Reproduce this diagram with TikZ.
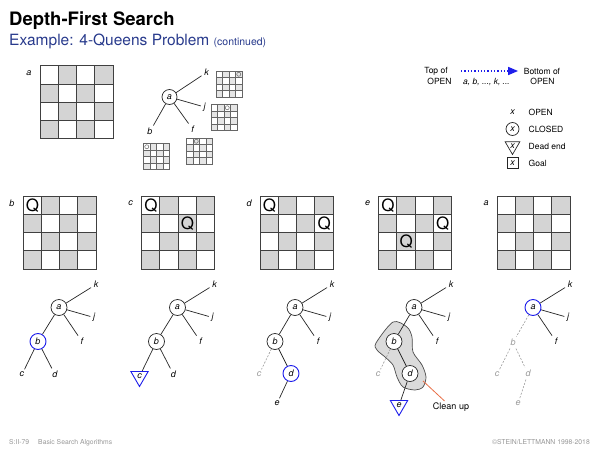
\documentclass[tikz,border=0pt]{standalone}
\usepackage{fontspec}
\setmainfont{TeX Gyre Heros}
\usepackage{tikz}
\usetikzlibrary{arrows}
\usetikzlibrary{positioning}
\usetikzlibrary{shapes.geometric}
\definecolor{cellgray}{RGB}{212,212,212}
\definecolor{subblue}{RGB}{40,58,140}
\definecolor{markblue}{RGB}{30,30,235}
\definecolor{cleanorange}{RGB}{232,110,70}
\definecolor{footgray}{RGB}{150,150,150}

\begin{document}
\begin{tikzpicture}[x=1pt,y=-1pt,>=triangle 45,on grid]
		\tikzstyle{treeedge}=[draw=black!85,line width=0.7pt];
		\tikzstyle{oldedge}=[draw=black!40,line width=0.6pt,dash pattern=on 2pt off 1.5pt];
		\tikzstyle{lbl}=[inner sep=2.5pt,font=\fontsize{9}{9}\selectfont\itshape];
		\tikzstyle{oldlbl}=[lbl,text=black!40];
		\tikzstyle{closednode}=[circle,draw=black!85,fill=white,line width=0.7pt,
			minimum size=16pt,inner sep=0pt,font=\fontsize{9}{9}\selectfont\itshape];
		\tikzstyle{curnode}=[closednode,draw=markblue,line width=0.9pt];
		\tikzstyle{deadnode}=[regular polygon,regular polygon sides=3,shape border rotate=180,
			draw=markblue,fill=white,line width=0.9pt,minimum size=20pt,inner sep=0pt,
			font=\fontsize{9}{9}\selectfont\itshape];
		\tikzstyle{queen}=[inner sep=0pt,font=\fontsize{17}{17}\selectfont];
		\tikzstyle{boardline}=[draw=black!75,line width=0.8pt];
		\tikzstyle{smallline}=[draw=black!60,line width=0.5pt];
		\tikzstyle{legend}=[inner sep=1pt,font=\fontsize{8.5}{9.5}\selectfont];
		\tikzstyle{foot}=[inner sep=0pt,text=footgray,font=\fontsize{6.8}{7.5}\selectfont];
		\useasboundingbox (0,0) rectangle (600,450);

		% title
		\node[anchor=base west,inner sep=0pt,font=\fontsize{18.5}{20}\selectfont\bfseries](title)
			at (9,25){Depth-First Search};
		\node[anchor=base west,inner sep=0pt,text=subblue,font=\fontsize{15.5}{17}\selectfont](subtitle)
			at (9,45){Example: 4-Queens Problem \fontsize{10.5}{12}\selectfont(continued)};

		% boards
		\foreach \bx/\by/\bn/\bl in {40/65.7/a0/a,23/196/b/b,141.5/196/c/c,260/196/d/d,378.5/196/e/e,497/196/a/a}{
			\node[lbl](tag\bn) at (\bx-11,\by+7){\bl};
			\begin{scope}[shift={(\bx,\by)}]
				\foreach \c/\r in {1/0,3/0,0/1,2/1,1/2,3/2,0/3,2/3}
					\fill[cellgray] (\c*18.25,\r*18.25) rectangle ++(18.25,18.25);
				\foreach \i in {1,2,3}
					\draw[boardline] (\i*18.25,0) -- (\i*18.25,73) (0,\i*18.25) -- (73,\i*18.25);
				\draw[boardline] (0,0) rectangle (73,73);
			\end{scope}
		}
		\foreach \bx/\c/\r/\qn in {23/0/0/b1,141.5/0/0/c1,141.5/2/1/c2,260/0/0/d1,260/3/1/d2,
				378.5/0/0/e1,378.5/3/1/e2,378.5/1/2/e3}
			\node[queen](q\qn) at (\bx+\c*18.25+9.4,196+\r*18.25+9.6){Q};

		% small boards
		\foreach \sx/\sy/\qc in {216/71/3,211/104.5/2,143.5/143.5/0,186.5/138/1}{
			\begin{scope}[shift={(\sx,\sy)}]
				\foreach \c/\r in {1/0,3/0,0/1,2/1,1/2,3/2,0/3,2/3}
					\fill[black!10] (\c*6.5,\r*6.5) rectangle ++(6.5,6.5);
				\foreach \i in {1,2,3}
					\draw[smallline] (\i*6.5,0) -- (\i*6.5,26) (0,\i*6.5) -- (26,\i*6.5);
				\draw[smallline] (0,0) rectangle (26,26);
				\draw[smallline] (\qc*6.5+3.25,3.25) circle[radius=2pt];
			\end{scope}
		}

		% small tree
		\node[closednode,minimum size=15pt](a0) at (169.5,97){a};
		\node[lbl,above right=24.5pt and 37pt of a0](k0){k};
		\node[lbl,below right=10pt and 35pt of a0](j0){j};
		\node[lbl,below right=32pt and 23pt of a0](f0){f};
		\node[lbl,below left=34.5pt and 19.5pt of a0](b0){b};
		\draw[treeedge](a0)--(k0)(a0)--(j0)(a0)--(f0)(a0)--(b0);

		% legend
		\node[legend](topof) at (436,71){Top of};
		\node[legend](topopen) at (439.5,81.7){OPEN};
		\node[legend](botof) at (542,71){Bottom of};
		\node[legend](botopen) at (542.5,81.7){OPEN};
		\node[legend,font=\fontsize{8.5}{9.5}\selectfont\itshape](order) at (486.5,81.7){a, b, ..., k, ...};
		\coordinate(qstart) at (461,71);
		\coordinate(qend) at (518,71);
		\draw[->,markblue,line width=1.3pt,dotted](qstart)--(qend);
		\node[lbl,inner sep=1pt](lopen) at (512.5,112.3){x};
		\node[closednode,minimum size=13pt](lclosed) at (512.5,129){x};
		\node[deadnode,draw=black!85,line width=0.7pt,minimum size=17pt](ldead) at (512.5,146){x};
		\node[rectangle,draw=black!85,line width=0.7pt,minimum size=11pt,inner sep=0pt,
			font=\fontsize{9}{9}\selectfont\itshape](lgoal) at (512.5,163.3){x};
		\node[legend,anchor=west](topen) at (527.5,112.3){OPEN};
		\node[legend,anchor=west](tclosed) at (527.5,129){CLOSED};
		\node[legend,anchor=west](tdead) at (527.5,146){Dead end};
		\node[legend,anchor=west](tgoal) at (527.5,163.3){Goal};

		% tree b
		\node[closednode](a1) at (59,307.5){a};
		\node[lbl,above right=23pt and 37pt of a1](k1){k};
		\node[lbl,below right=10pt and 35pt of a1](j1){j};
		\node[lbl,below right=34pt and 23pt of a1](f1){f};
		\node[curnode,below left=34pt and 21pt of a1](b1){b};
		\node[lbl,below left=33pt and 16pt of b1](c1){c};
		\node[lbl,below right=33pt and 17pt of b1](d1){d};
		\draw[treeedge](a1)--(k1)(a1)--(j1)(a1)--(f1)(a1)--(b1)(b1)--(c1)(b1)--(d1);

		% tree c
		\node[closednode](a2) at (177.5,307.5){a};
		\node[lbl,above right=23pt and 37pt of a2](k2){k};
		\node[lbl,below right=10pt and 35pt of a2](j2){j};
		\node[lbl,below right=34pt and 23pt of a2](f2){f};
		\node[closednode,below left=34pt and 21pt of a2](b2){b};
		\node[deadnode,below left=35pt and 17pt of b2](c2){c};
		\node[lbl,below right=33pt and 17pt of b2](d2){d};
		\draw[treeedge](a2)--(k2)(a2)--(j2)(a2)--(f2)(a2)--(b2)(b2)--(c2)(b2)--(d2);

		% tree d
		\node[closednode](a3) at (295,307.5){a};
		\node[lbl,above right=23pt and 37pt of a3](k3){k};
		\node[lbl,below right=10pt and 35pt of a3](j3){j};
		\node[lbl,below right=34pt and 23pt of a3](f3){f};
		\node[closednode,below left=34pt and 20pt of a3](b3){b};
		\node[oldlbl,below left=33pt and 16pt of b3](c3){c};
		\node[curnode,below right=32pt and 16pt of b3](d3){d};
		\node[lbl,below left=30pt and 14pt of d3](e3){e};
		\draw[treeedge](a3)--(k3)(a3)--(j3)(a3)--(f3)(a3)--(b3)(b3)--(d3)(d3)--(e3);
		\draw[oldedge](b3)--(c3);

		% tree e
		\draw[fill=black!14,draw=black!70,line width=0.7pt] plot[smooth cycle] coordinates
			{(376,343)(393,322)(407,327)(412,337)(413,352)(422,365)(426,377)(423,387)
			(415,390)(403,387)(397,377)(393,365)(385,357)(377,350)};
		\node[closednode](a4) at (414,307.5){a};
		\node[lbl,above right=23pt and 37pt of a4](k4){k};
		\node[lbl,below right=10pt and 35pt of a4](j4){j};
		\node[lbl,below right=34pt and 23pt of a4](f4){f};
		\node[closednode,below left=34pt and 20pt of a4](b4){b};
		\node[oldlbl,below left=33pt and 16pt of b4](c4){c};
		\node[closednode,below right=32pt and 16pt of b4](d4){d};
		\node[deadnode,below left=32pt and 11pt of d4](e4){e};
		\draw[treeedge](a4)--(k4)(a4)--(j4)(a4)--(f4)(a4)--(b4)(b4)--(d4)(d4)--(e4);
		\draw[oldedge](b4)--(c4);
		\node[inner sep=1.5pt,font=\fontsize{9}{9}\selectfont](clean) at (451,407){Clean up};
		\coordinate(blobside) at (423,381);
		\draw[cleanorange,line width=0.8pt](blobside)--(clean);

		% tree a
		\node[curnode](a5) at (533,307.5){a};
		\node[lbl,above right=23pt and 37pt of a5](k5){k};
		\node[lbl,below right=10pt and 35pt of a5](j5){j};
		\node[lbl,below right=34pt and 23pt of a5](f5){f};
		\node[oldlbl,below left=35pt and 20pt of a5](b5){b};
		\node[oldlbl,below left=32pt and 16pt of b5](c5){c};
		\node[oldlbl,below right=31pt and 15pt of b5](d5){d};
		\node[oldlbl,below left=30pt and 10pt of d5](e5){e};
		\draw[treeedge](a5)--(k5)(a5)--(j5)(a5)--(f5);
		\draw[oldedge](a5)--(b5)(b5)--(c5)(b5)--(d5)(d5)--(e5);

		% footer
		\node[foot,anchor=base west](footl) at (9,444){S:II-79\hspace{9pt}Basic Search Algorithms};
		\node[foot,anchor=base east](footr) at (590,444){\textcopyright STEIN/LETTMANN 1998-2018};
	\end{tikzpicture}
\end{document}
